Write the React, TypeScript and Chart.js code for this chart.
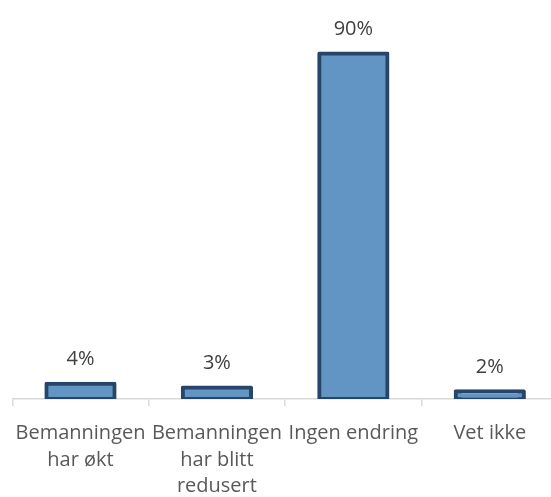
import React, { useEffect, useRef } from "react";
import { Chart, registerables } from "chart.js";

Chart.register(...registerables);

const categories: string[][] = [
  ["Bemanningen", "har økt"],
  ["Bemanningen", "har blitt", "redusert"],
  ["Ingen endring"],
  ["Vet ikke"],
];
const values: number[] = [4, 3, 90, 2];
const valueLabels: string[] = ["4%", "3%", "90%", "2%"];

const labelPlugin = {
  id: "valueLabels",
  afterDatasetsDraw(chart: any) {
    const ctx = chart.ctx;
    const meta = chart.getDatasetMeta(0);
    ctx.save();
    ctx.font = "20px 'Open Sans'";
    ctx.fillStyle = "#404040";
    ctx.textAlign = "center";
    ctx.textBaseline = "middle";
    meta.data.forEach((el: any, i: number) => {
      ctx.fillText(valueLabels[i], el.x, el.y - 24);
    });
    ctx.restore();
  },
};

export default function App() {
  const ref = useRef<HTMLCanvasElement | null>(null);
  useEffect(() => {
    if (!ref.current) return;
    const chart = new Chart(ref.current, {
      type: "bar",
      data: {
        labels: categories,
        datasets: [
          {
            data: values,
            backgroundColor: "#6395c4",
            borderColor: "#264568",
            borderWidth: 4,
            borderSkipped: false,
            borderRadius: 2,
            inflateAmount: 2,
            barPercentage: 0.5,
            categoryPercentage: 1,
          },
        ],
      },
      options: {
        animation: false,
        responsive: true,
        maintainAspectRatio: false,
        layout: { padding: { top: 15, left: 12, right: 2, bottom: 0 } },
        plugins: {
          legend: { display: false },
          tooltip: { enabled: false },
        },
        scales: {
          y: { display: false, min: 0, max: 100 },
          x: {
            afterFit: (scale: any) => {
              scale.height = 98;
            },
            grid: {
              display: true,
              drawOnChartArea: false,
              drawTicks: true,
              tickLength: 7,
              color: "#d9d9d9",
              lineWidth: 1.5,
              offset: true,
            },
            border: { display: true, color: "#d9d9d9", width: 1.5 },
            ticks: {
              color: "#595959",
              font: { family: "'Open Sans'", size: 20, lineHeight: 1.33 },
              padding: 14,
              maxRotation: 0,
              minRotation: 0,
              autoSkip: false,
            },
          },
        },
      },
      plugins: [labelPlugin],
    });
    return () => chart.destroy();
  }, []);
  return (
    <div
      style={{
        position: "fixed",
        left: 0,
        top: 0,
        width: 551,
        height: 497,
        overflow: "hidden",
        background: "#fff",
      }}
    >
      <div style={{ position: "relative", width: 560, height: 497 }}>
        <canvas ref={ref} />
      </div>
    </div>
  );
}
